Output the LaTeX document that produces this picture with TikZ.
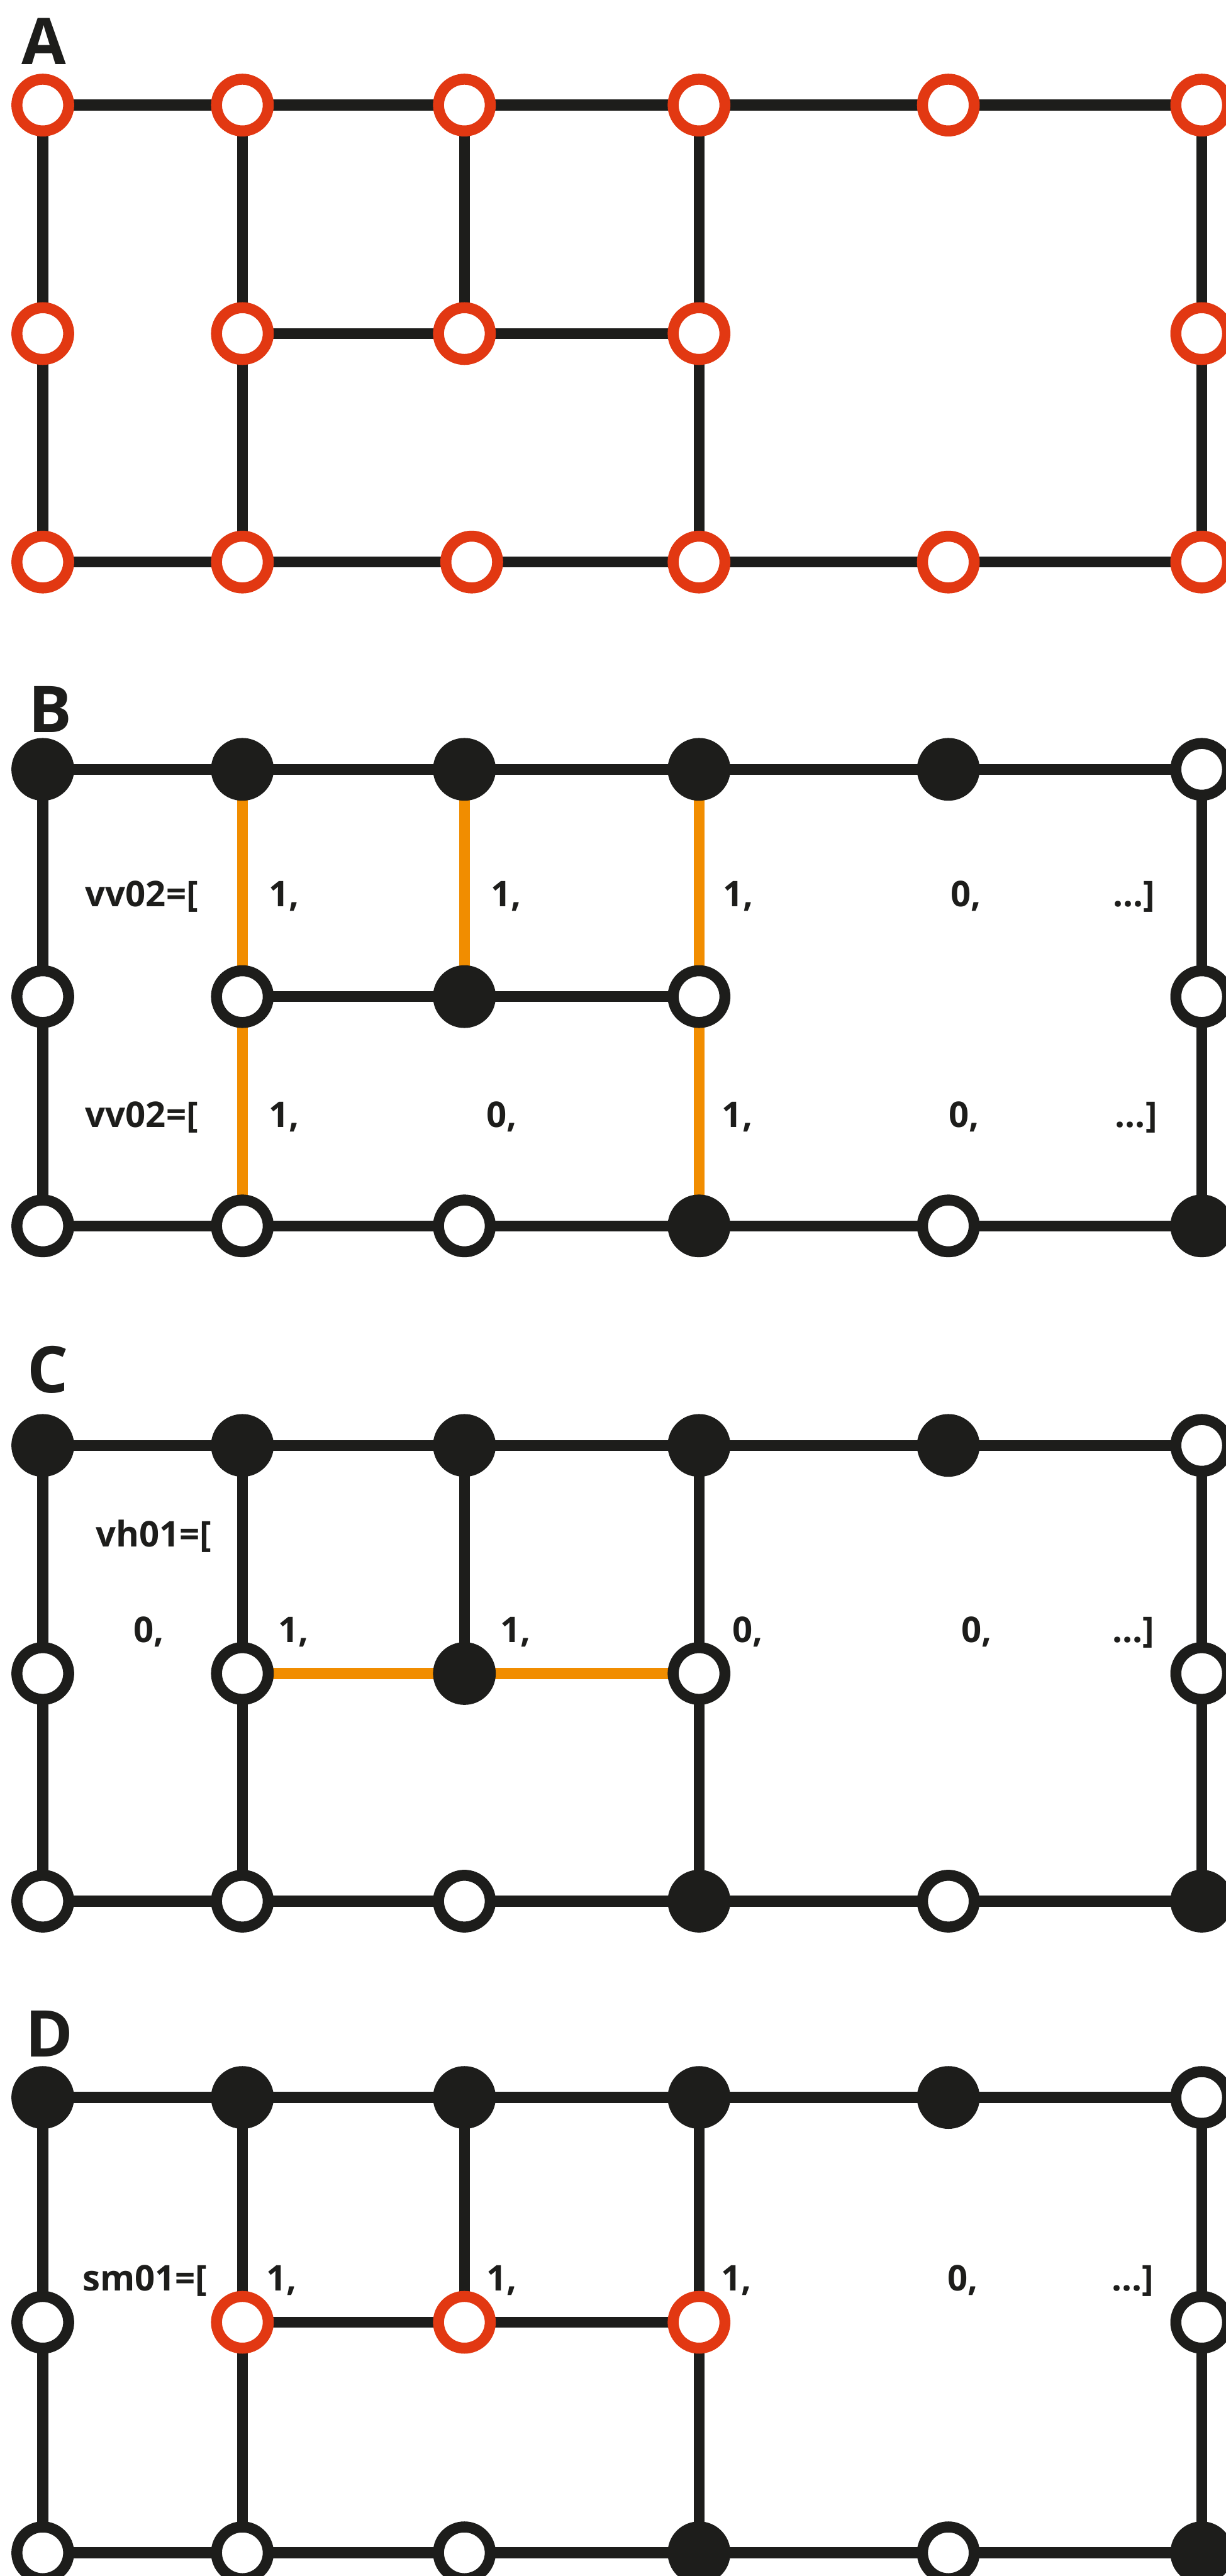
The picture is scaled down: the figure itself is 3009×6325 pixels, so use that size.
\documentclass[tikz,border=0pt]{standalone}
\usepackage{fontspec}
\setmainfont{Open Sans}
\usetikzlibrary{backgrounds}
\definecolor{ink}{HTML}{1D1D1B}
\definecolor{ringred}{HTML}{E23812}
\definecolor{edgeorange}{HTML}{F18D00}
\tikzset{
  wn/.style={circle, draw=ink, line width=0.27cm, fill=white, minimum size=1.27cm, inner sep=0pt},
  rn/.style={wn, draw=ringred},
  bn/.style={circle, fill=ink, draw=none, minimum size=1.54cm, inner sep=0pt},
  ed/.style={draw=ink, line width=0.27cm},
  oe/.style={draw=edgeorange, line width=0.27cm},
  lbl/.style={anchor=base west, inner sep=0pt, text=ink, font=\fontsize{24.7}{30}\selectfont\bfseries},
  plbl/.style={anchor=base west, inner sep=0pt, text=ink, font=\fontsize{45}{54}\selectfont\bfseries}
}
\begin{document}
\begin{tikzpicture}[x=0.01cm, y=-0.01cm]
\useasboundingbox (0,0) rectangle (3009,6325);

% ---------------- Panel A ----------------
\node[plbl] (LA) at (52,159) {A};
\node[rn] (a11) at (105,258) {};
\node[rn] (a12) at (595,258) {};
\node[rn] (a13) at (1140,258) {};
\node[rn] (a14) at (1716,258) {};
\node[rn] (a15) at (2328,258) {};
\node[rn] (a16) at (2950,258) {};
\node[rn] (a21) at (105,819) {};
\node[rn] (a22) at (595,819) {};
\node[rn] (a23) at (1140,819) {};
\node[rn] (a24) at (1716,819) {};
\node[rn] (a26) at (2950,819) {};
\node[rn] (a31) at (105,1380) {};
\node[rn] (a32) at (595,1380) {};
\node[rn] (a33) at (1158,1380) {};
\node[rn] (a34) at (1716,1380) {};
\node[rn] (a35) at (2328,1380) {};
\node[rn] (a36) at (2950,1380) {};
\begin{scope}[on background layer]
\draw[ed] (a11.center) -- (a12.center) -- (a13.center) -- (a14.center) -- (a15.center) -- (a16.center);
\draw[ed] (a31.center) -- (a32.center) -- (a33.center) -- (a34.center) -- (a35.center) -- (a36.center);
\draw[ed] (a22.center) -- (a23.center) -- (a24.center);
\draw[ed] (a11.center) -- (a21.center) -- (a31.center);
\draw[ed] (a12.center) -- (a22.center) -- (a32.center);
\draw[ed] (a13.center) -- (a23.center);
\draw[ed] (a14.center) -- (a24.center) -- (a34.center);
\draw[ed] (a16.center) -- (a26.center) -- (a36.center);
\end{scope}

% ---------------- Panel B ----------------
\node[plbl] (LB) at (70,1798) {B};
\node[bn] (b11) at (105,1889) {};
\node[bn] (b12) at (595,1889) {};
\node[bn] (b13) at (1140,1889) {};
\node[bn] (b14) at (1716,1889) {};
\node[bn] (b15) at (2328,1889) {};
\node[wn] (b16) at (2950,1889) {};
\node[wn] (b21) at (105,2447) {};
\node[wn] (b22) at (595,2447) {};
\node[bn] (b23) at (1140,2447) {};
\node[wn] (b24) at (1716,2447) {};
\node[wn] (b26) at (2950,2447) {};
\node[wn] (b31) at (105,3010) {};
\node[wn] (b32) at (595,3010) {};
\node[wn] (b33) at (1140,3010) {};
\node[bn] (b34) at (1716,3010) {};
\node[wn] (b35) at (2328,3010) {};
\node[bn] (b36) at (2950,3010) {};
\begin{scope}[on background layer]
\draw[ed] (b11.center) -- (b12.center) -- (b13.center) -- (b14.center) -- (b15.center) -- (b16.center);
\draw[ed] (b31.center) -- (b32.center) -- (b33.center) -- (b34.center) -- (b35.center) -- (b36.center);
\draw[ed] (b22.center) -- (b23.center) -- (b24.center);
\draw[ed] (b11.center) -- (b21.center) -- (b31.center);
\draw[oe] (b12.center) -- (b22.center);
\draw[oe] (b22.center) -- (b32.center);
\draw[oe] (b13.center) -- (b23.center);
\draw[oe] (b14.center) -- (b24.center);
\draw[oe] (b24.center) -- (b34.center);
\draw[ed] (b16.center) -- (b26.center) -- (b36.center);
\end{scope}
\node[lbl] (bt1) at (209,2226) {vv02=[};
\node[lbl] (bt2) at (660,2226) {1,};
\node[lbl] (bt3) at (1204,2226) {1,};
\node[lbl] (bt4) at (1774,2226) {1,};
\node[lbl] (bt5) at (2333,2226) {0,};
\node[lbl] (bt6) at (2732,2226) {...]};
\node[lbl] (bu1) at (209,2768) {vv02=[};
\node[lbl] (bu2) at (660,2768) {1,};
\node[lbl] (bu3) at (1194,2768) {0,};
\node[lbl] (bu4) at (1772,2768) {1,};
\node[lbl] (bu5) at (2328,2768) {0,};
\node[lbl] (bu6) at (2737,2768) {...]};

% ---------------- Panel C ----------------
\node[plbl] (LC) at (66,3420) {C};
\node[bn] (c11) at (105,3549) {};
\node[bn] (c12) at (595,3549) {};
\node[bn] (c13) at (1140,3549) {};
\node[bn] (c14) at (1716,3549) {};
\node[bn] (c15) at (2328,3549) {};
\node[wn] (c16) at (2950,3549) {};
\node[wn] (c21) at (105,4109) {};
\node[wn] (c22) at (595,4109) {};
\node[bn] (c23) at (1140,4109) {};
\node[wn] (c24) at (1716,4109) {};
\node[wn] (c26) at (2950,4109) {};
\node[wn] (c31) at (105,4668) {};
\node[wn] (c32) at (595,4668) {};
\node[wn] (c33) at (1140,4668) {};
\node[bn] (c34) at (1716,4668) {};
\node[wn] (c35) at (2328,4668) {};
\node[bn] (c36) at (2950,4668) {};
\begin{scope}[on background layer]
\draw[ed] (c11.center) -- (c12.center) -- (c13.center) -- (c14.center) -- (c15.center) -- (c16.center);
\draw[ed] (c31.center) -- (c32.center) -- (c33.center) -- (c34.center) -- (c35.center) -- (c36.center);
\draw[oe] (c22.center) -- (c23.center);
\draw[oe] (c23.center) -- (c24.center);
\draw[ed] (c11.center) -- (c21.center) -- (c31.center);
\draw[ed] (c12.center) -- (c22.center) -- (c32.center);
\draw[ed] (c13.center) -- (c23.center);
\draw[ed] (c14.center) -- (c24.center) -- (c34.center);
\draw[ed] (c16.center) -- (c26.center) -- (c36.center);
\end{scope}
\node[lbl] (ct0) at (235,3798) {vh01=[};
\node[lbl] (ct1) at (327,4032) {0,};
\node[lbl] (ct2) at (683,4032) {1,};
\node[lbl] (ct3) at (1228,4032) {1,};
\node[lbl] (ct4) at (1798,4032) {0,};
\node[lbl] (ct5) at (2359,4032) {0,};
\node[lbl] (ct6) at (2730,4032) {...]};

% ---------------- Panel D ----------------
\node[plbl] (LD) at (62,5050) {D};
\node[bn] (d11) at (105,5150) {};
\node[bn] (d12) at (595,5150) {};
\node[bn] (d13) at (1140,5150) {};
\node[bn] (d14) at (1716,5150) {};
\node[bn] (d15) at (2328,5150) {};
\node[wn] (d16) at (2950,5150) {};
\node[wn] (d21) at (105,5702) {};
\node[rn] (d22) at (595,5702) {};
\node[rn] (d23) at (1140,5702) {};
\node[rn] (d24) at (1716,5702) {};
\node[wn] (d26) at (2950,5702) {};
\node[wn] (d31) at (105,6268) {};
\node[wn] (d32) at (595,6268) {};
\node[wn] (d33) at (1140,6268) {};
\node[bn] (d34) at (1716,6268) {};
\node[wn] (d35) at (2328,6268) {};
\node[bn] (d36) at (2950,6268) {};
\begin{scope}[on background layer]
\draw[ed] (d11.center) -- (d12.center) -- (d13.center) -- (d14.center) -- (d15.center) -- (d16.center);
\draw[ed] (d31.center) -- (d32.center) -- (d33.center) -- (d34.center) -- (d35.center) -- (d36.center);
\draw[ed] (d22.center) -- (d23.center) -- (d24.center);
\draw[ed] (d11.center) -- (d21.center) -- (d31.center);
\draw[ed] (d12.center) -- (d22.center) -- (d32.center);
\draw[ed] (d13.center) -- (d23.center);
\draw[ed] (d14.center) -- (d24.center) -- (d34.center);
\draw[ed] (d16.center) -- (d26.center) -- (d36.center);
\end{scope}
\node[lbl] (dt0) at (202,5625) {sm01=[};
\node[lbl] (dt1) at (653,5625) {1,};
\node[lbl] (dt2) at (1194,5625) {1,};
\node[lbl] (dt3) at (1770,5625) {1,};
\node[lbl] (dt4) at (2326,5625) {0,};
\node[lbl] (dt5) at (2729,5625) {...]};
\end{tikzpicture}
\end{document}
